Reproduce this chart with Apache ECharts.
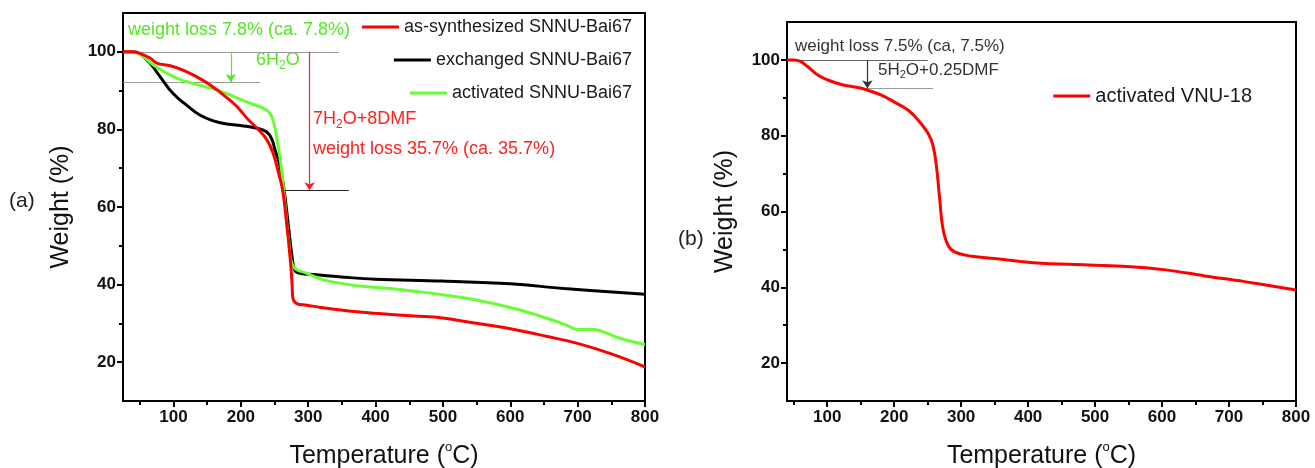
<!DOCTYPE html>
<html>
<head>
<meta charset="utf-8">
<script src="https://cdn.jsdelivr.net/npm/echarts@6/dist/echarts.min.js"></script>
<style>
  html, body { margin: 0; padding: 0; background: #fff; }
  #chart { width: 1315px; height: 468px; }
</style>
</head>
<body>
<div id="chart"></div>
<script>
// (a) as-synthesized / exchanged / activated SNNU-Bai67
const redT = [25, 40, 50, 65, 75, 95, 114, 134, 154, 174, 194, 209, 224, 238, 248, 256, 262, 268, 273, 276, 277, 283, 298, 319, 360, 399, 457, 499, 547, 600, 653, 701, 749, 800]
const redW = [100, 100, 99.6, 98.4, 97.1, 96.4, 95.3, 93.6, 91.5, 88.9, 85.9, 82.9, 80.3, 77.5, 73.8, 68.7, 64.4, 55.8, 47.2, 40.3, 36.8, 35.1, 34.7, 34.1, 33.2, 32.6, 31.9, 31.4, 30.1, 28.6, 26.7, 24.8, 22.2, 18.8]
const blackT = [25, 38, 50, 65, 80, 99, 119, 139, 159, 179, 204, 224, 238, 246, 251, 256, 261, 266, 271, 276, 280, 288, 308, 361, 399, 499, 600, 680, 800]
const blackW = [100, 100, 99.5, 97.1, 93.6, 89.3, 86.3, 83.7, 82.2, 81.4, 80.9, 80.3, 79.4, 77.5, 74.5, 72, 68, 62, 54.5, 47.2, 43.7, 42.9, 42.6, 41.8, 41.4, 40.9, 40.2, 39, 37.5]
const greenT = [25, 40, 55, 70, 90, 109, 134, 164, 189, 214, 233, 243, 249, 253, 257, 261, 266, 271, 278, 298, 318, 330, 372, 414, 467, 499, 547, 600, 637, 680, 701, 722, 738, 764, 800]
const greenW = [100, 100, 98.8, 96.6, 94.5, 92.9, 91.6, 90.2, 88.5, 86.7, 85.5, 84.2, 81.6, 78.1, 74, 68.7, 60, 51.5, 44.6, 42.9, 41.5, 40.9, 39.7, 39.1, 38.1, 37.4, 36.1, 34.1, 32.3, 29.8, 28.4, 28.5, 27.8, 26.1, 24.5]

// (b) activated VNU-18
const vnuT = [40, 50, 60, 71, 86, 101, 121, 146, 161, 181, 201, 221, 236, 251, 258, 263, 268, 273, 281, 291, 316, 350, 408, 490, 548, 606, 664, 723, 800]
const vnuW = [100, 100, 99.6, 98.2, 96, 94.7, 93.5, 92.7, 92, 90.7, 88.8, 86.7, 84.1, 80.5, 77.4, 72.1, 63.3, 55.3, 50.9, 49.3, 48.2, 47.6, 46.5, 45.9, 45.5, 44.6, 43, 41.5, 39.3]

// ticks
const xMajor = [100, 200, 300, 400, 500, 600, 700, 800]
const xMinor = [50, 150, 250, 350, 450, 550, 650, 750]
const yMajor = [20, 40, 60, 80, 100]
const yMinor = [30, 50, 70, 90]

// guide lines + arrows (data space)
const guidesA = [[[25, 100], [345, 100]], [[25, 92.2], [229, 92.2]], [[260, 64.3], [360, 64.3]]]
const guideColorsA = ['#9a9a9a', '#9a9a9a', '#222']
const arrowsA = [[[185, 100], [185, 92.2]], [[302, 100], [302, 64.3]]]
const arrowColorsA = ['#55e622', '#ff2020']
const guidesB = [[[40, 100], [250, 100]], [[156, 92.5], [258, 92.5]]]
const arrowsB = [[[160, 100], [160, 92.5]]]

const names = ['as-synthesized SNNU-Bai67', 'exchanged SNNU-Bai67', 'activated SNNU-Bai67', 'activated VNU-18']

const FONT = '"Liberation Sans", Arial, sans-serif'
const GREEN = '#55e622'
const RED = '#ff0000'

const zip = (a, b) => a.map((v, i) => [v, b[i]])

const chart = echarts.init(document.getElementById('chart'))

function xAxes(grid, min) {
  return [
    {
      gridIndex: grid, type: 'value', min: min, max: 800, position: 'bottom',
      axisLine: { lineStyle: { color: '#000', width: 2 } },
      axisTick: { customValues: xMajor, length: 6, lineStyle: { color: '#000', width: 2 } },
      axisLabel: { customValues: xMajor, color: '#111', fontFamily: FONT, fontWeight: 'bold', fontSize: 17, margin: 8 },
      splitLine: { show: false },
      name: '{n|Temperature (}{s|o}{n|C)}',
      nameLocation: 'middle',
      nameGap: 40,
      nameTextStyle: {
        rich: {
          n: { fontFamily: FONT, fontSize: 25, color: '#111', lineHeight: 30 },
          s: { fontFamily: FONT, fontSize: 13, color: '#111', lineHeight: 4, verticalAlign: 'top' }
        }
      }
    },
    {
      gridIndex: grid, type: 'value', min: min, max: 800, position: 'bottom',
      axisLine: { show: false },
      axisTick: { customValues: xMinor, length: 4, lineStyle: { color: '#000', width: 2 } },
      axisLabel: { show: false },
      splitLine: { show: false }
    }
  ]
}

function yAxes(grid) {
  return [
    {
      gridIndex: grid, type: 'value', min: 10, max: 110, position: 'left',
      axisLine: { show: true, lineStyle: { color: '#000', width: 2 } },
      axisTick: { show: true, customValues: yMajor, length: 6, lineStyle: { color: '#000', width: 2 } },
      axisLabel: { customValues: yMajor, color: '#111', fontFamily: FONT, fontWeight: 'bold', fontSize: 17, margin: 7 },
      splitLine: { show: false },
      name: 'Weight (%)',
      nameLocation: 'middle',
      nameGap: 49,
      nameTextStyle: { fontFamily: FONT, fontSize: 25, color: '#111' }
    },
    {
      gridIndex: grid, type: 'value', min: 10, max: 110, position: 'left',
      axisLine: { show: false },
      axisTick: { show: true, customValues: yMinor, length: 4, lineStyle: { color: '#000', width: 2 } },
      axisLabel: { show: false },
      splitLine: { show: false }
    }
  ]
}

function legendRow(name, right, top, size) {
  return {
    data: [name], right: right, top: top, padding: 0,
    icon: 'rect', itemWidth: 37, itemHeight: 3,
    textStyle: { fontFamily: FONT, fontSize: size, color: '#1a1a1a' },
    selectedMode: false
  }
}

function curve(name, data, color, axis) {
  return {
    name: name, type: 'line', data: data,
    xAxisIndex: axis, yAxisIndex: axis,
    showSymbol: false, symbol: 'none',
    smooth: 0.4,
    lineStyle: { color: color, width: 3 },
    itemStyle: { color: color },
    z: 5
  }
}

function guides(lines, colors, axis, arrow) {
  return {
    type: 'lines', coordinateSystem: 'cartesian2d',
    xAxisIndex: axis, yAxisIndex: axis,
    symbol: arrow ? ['none', 'arrow'] : 'none',
    symbolSize: 8,
    lineStyle: { width: 1.2, opacity: 1 },
    data: lines.map((c, i) => ({ coords: c, lineStyle: { color: colors[i] } })),
    silent: true,
    z: 2
  }
}

function label(text, x, y, size, color, rich) {
  return {
    type: 'text', left: x, top: y - size * 0.65,
    style: { text: text, fontFamily: FONT, fontSize: size, fill: color, rich: rich }
  }
}

const subRich = (size, color) => ({
  n: { fontFamily: FONT, fontSize: size, fill: color, lineHeight: size + 4 },
  b: { fontFamily: FONT, fontSize: Math.round(size * 0.65), fill: color, lineHeight: 4, verticalAlign: 'bottom' }
})

chart.setOption({
  animation: false,
  backgroundColor: '#fff',
  grid: [
    { left: 123, top: 13, width: 522, height: 388, show: true, borderColor: '#000', borderWidth: 2, outerBoundsMode: 'none' },
    { left: 787, top: 22, width: 509, height: 379, show: true, borderColor: '#000', borderWidth: 2, outerBoundsMode: 'none' }
  ],
  xAxis: [...xAxes(0, 25), ...xAxes(1, 40)],
  yAxis: [...yAxes(0), ...yAxes(1)],
  legend: [
    legendRow(names[0], 683, 18, 18),
    legendRow(names[1], 683, 51, 18),
    legendRow(names[2], 683, 84, 18),
    legendRow(names[3], 63, 86, 20)
  ],
  series: [
    guides(guidesA, guideColorsA, 0, false),
    guides(arrowsA, arrowColorsA, 0, true),
    guides(guidesB, ['#666', '#9a9a9a'], 2, false),
    guides(arrowsB, ['#333'], 2, true),
    curve(names[1], zip(blackT, blackW), '#000', 0),
    curve(names[2], zip(greenT, greenW), '#66ff33', 0),
    curve(names[0], zip(redT, redW), RED, 0),
    curve(names[3], zip(vnuT, vnuW), RED, 2)
  ],
  graphic: [
    label('weight loss 7.8% (ca. 7.8%)', 128, 33, 18, GREEN),
    label('{n|6H}{b|2}{n|O}', 256, 63, 18, GREEN, subRich(18, GREEN)),
    label('{n|7H}{b|2}{n|O+8DMF}', 313, 122, 18, '#ff2020', subRich(18, '#ff2020')),
    label('weight loss 35.7% (ca. 35.7%)', 313, 152, 18, '#ff2020'),
    label('(a)', 9, 204, 21, '#222'),
    label('(b)', 678, 242, 21, '#222'),
    label('weight loss 7.5% (ca, 7.5%)', 795, 49, 17, '#333'),
    label('{n|5H}{b|2}{n|O+0.25DMF}', 878, 73, 17, '#333', subRich(17, '#333'))
  ]
})
</script>
</body>
</html>
